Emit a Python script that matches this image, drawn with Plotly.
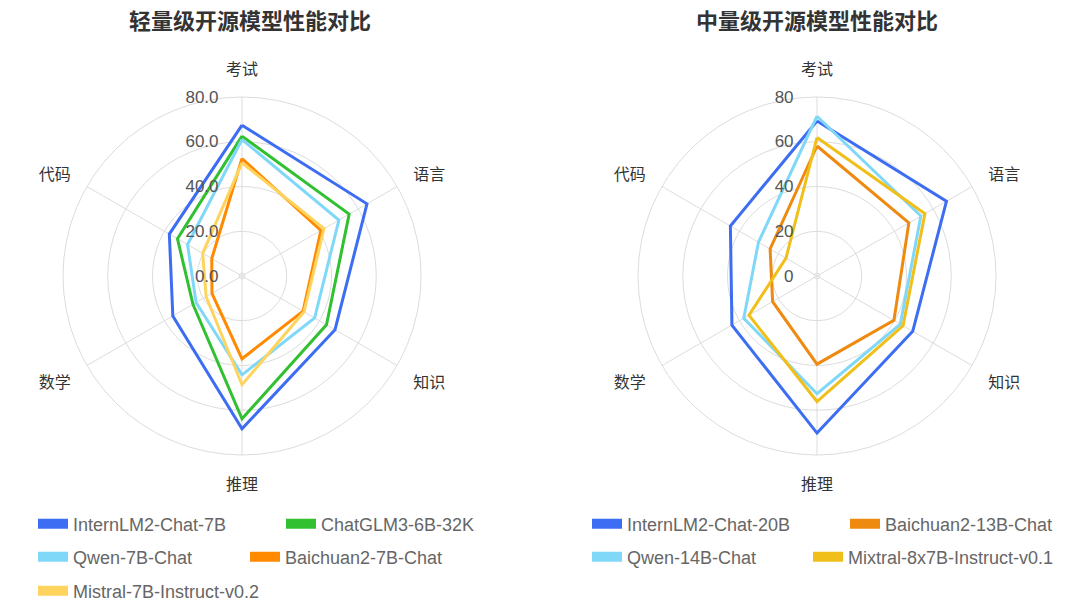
import plotly.graph_objects as go

categories = ['考试', '语言', '知识', '推理', '数学', '代码']

# 轻量级
light_names = ['InternLM2-Chat-7B', 'ChatGLM3-6B-32K', 'Qwen-7B-Chat', 'Baichuan2-7B-Chat', 'Mistral-7B-Instruct-v0.2']
internlm2_7b = [67.4, 64.5, 48.0, 68.3, 35.7, 37.5]
chatglm3_6b = [62.5, 55.3, 43.6, 63.8, 25.3, 33.3]
qwen_7b = [61.0, 50.0, 37.5, 44.2, 23.7, 28.1]
baichuan2_7b = [52.5, 40.7, 31.5, 37.0, 15.5, 15.6]
mistral_7b = [50.6, 42.3, 32.0, 48.6, 18.5, 20.3]
light_values = [internlm2_7b, chatglm3_6b, qwen_7b, baichuan2_7b, mistral_7b]
light_colors = ['#3d6df2', '#30c030', '#80d8f8', '#ff8a00', '#ffd45e']
light_legends = ['legend', 'legend', 'legend2', 'legend2', 'legend3']

# 中量级
mid_names = ['InternLM2-Chat-20B', 'Baichuan2-13B-Chat', 'Qwen-14B-Chat', 'Mixtral-8x7B-Instruct-v0.1']
internlm2_20b = [69.3, 66.8, 49.4, 70.2, 43.9, 44.7]
baichuan2_13b = [58.1, 47.4, 39.7, 39.4, 22.9, 24.2]
qwen_14b = [71.4, 53.6, 43.0, 52.6, 37.8, 30.2]
mixtral_8x7b = [61.9, 55.7, 44.4, 56.1, 35.1, 16.0]
mid_values = [internlm2_20b, baichuan2_13b, qwen_14b, mixtral_8x7b]
mid_colors = ['#3d6df2', '#ef8a10', '#80d8f8', '#f1bf1a']
mid_legends = ['legend4', 'legend4', 'legend5', 'legend5']

tick_vals = [0, 1.3, 20, 40, 60, 80]
light_ticks = ['0.0', '', '20.0', '40.0', '60.0', '80.0']
mid_ticks = ['0', '', '20', '40', '60', '80']

titles = ['轻量级开源模型性能对比', '中量级开源模型性能对比']

FONT = 'Liberation Sans, Noto Sans CJK SC, sans-serif'

# page body margin offset
OFF = 8

fig = go.Figure()

# first item widths per legend row (text part)
row_widths = {'legend': 203, 'legend2': 167, 'legend3': None, 'legend4': 213, 'legend5': 176}


def add_group(names, values, colors, legends, subplot):
    seen = set()
    for n, v, c, lg in zip(names, values, colors, legends):
        fig.add_trace(go.Scatterpolar(
            r=v + v[:1], theta=categories + categories[:1], mode='lines',
            line=dict(color=c, width=3), name=n, showlegend=False,
            subplot=subplot, hoverinfo='skip'))
    for n, c, lg in zip(names, colors, legends):
        kw = {}
        if lg not in seen and row_widths.get(lg):
            kw['legendwidth'] = row_widths[lg]
        seen.add(lg)
        fig.add_trace(go.Scatterpolar(
            r=[None], theta=[None], mode='lines',
            line=dict(color=c, width=10), name=n, showlegend=True,
            legend=lg, subplot=subplot, **kw))


add_group(light_names, light_values, light_colors, light_legends, 'polar')
add_group(mid_names, mid_values, mid_colors, mid_legends, 'polar2')

W, H = 1080, 616


def polar_cfg(cx, cy, r, ticks):
    cx -= OFF
    cy -= OFF
    return dict(
        domain=dict(x=[(cx - r) / W, (cx + r) / W], y=[1 - (cy + r) / H, 1 - (cy - r) / H]),
        bgcolor='white',
        radialaxis=dict(range=[0, 80], tickvals=tick_vals, ticktext=ticks, angle=90,
                        tickangle=90, side='counterclockwise', showline=False,
                        gridcolor='#dcdcdc', gridwidth=1, ticks='outside', ticklen=17,
                        tickcolor='rgba(0,0,0,0)',
                        tickfont=dict(size=17, color='#555555', family=FONT)),
        angularaxis=dict(categoryarray=categories, categoryorder='array', rotation=90,
                         direction='clockwise', gridcolor='#dcdcdc', linecolor='#dcdcdc',
                         showline=True, ticks='outside', ticklen=15, tickcolor='rgba(0,0,0,0)',
                         tickfont=dict(size=16, color='#333333', family=FONT)),
    )


def legend_cfg(x_text, y_center):
    return dict(orientation='h', x=(x_text - 40 - OFF) / W, xanchor='left', y=1 - (y_center - OFF) / H,
                yanchor='middle', font=dict(size=18, color='#666666', family=FONT),
                bgcolor='rgba(0,0,0,0)', itemwidth=30, tracegroupgap=0)


def title_ann(text, x, y):
    return dict(text='<b>' + text + '</b>', x=(x - OFF) / W, y=1 - (y - OFF) / H,
                xref='paper', yref='paper', showarrow=False, xanchor='center', yanchor='middle',
                font=dict(size=22, color='#333333', family=FONT))


fig.update_layout(
    width=W, height=H, margin=dict(l=0, r=0, t=0, b=0),
    paper_bgcolor='white', plot_bgcolor='white',
    font=dict(family=FONT),
    polar=polar_cfg(242, 276, 179, light_ticks),
    polar2=polar_cfg(817, 276, 179, mid_ticks),
    legend=legend_cfg(73, 524),
    legend2=legend_cfg(73, 557),
    legend3=legend_cfg(73, 591),
    legend4=legend_cfg(627, 524),
    legend5=legend_cfg(627, 557),
    annotations=[title_ann(titles[0], 250, 22), title_ann(titles[1], 817, 22)],
)

fig.write_html('out.html')
